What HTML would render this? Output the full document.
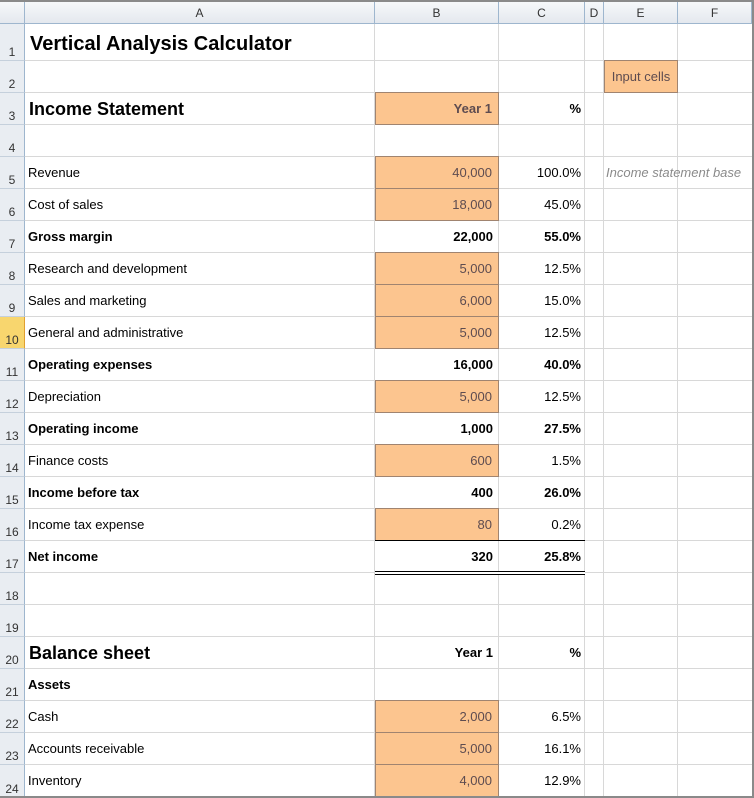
<!DOCTYPE html>
<html><head><meta charset="utf-8"><style>
*{margin:0;padding:0;box-sizing:border-box}
body{width:754px;height:798px;overflow:hidden;background:#fff;font-family:"Liberation Sans",sans-serif;font-size:13px;color:#000;position:relative}
.a{position:absolute}
.hdr{top:2px;height:22px;background:linear-gradient(#f6f8fa,#e4e8ee);border-bottom:1px solid #9eb6ce;text-align:center;line-height:22px;color:#333;font-size:12px}
.vl{position:absolute;top:24px;bottom:0;width:1px;background:#d8d8d8}
.hl{position:absolute;left:25px;right:2px;height:1px;background:#d8d8d8}
.rn{position:absolute;left:0;width:25px;background:#e9edf2;border-right:1px solid #9eb6ce;border-bottom:1px solid #c5d0dc;color:#333;font-size:12px;text-align:center}
.rn span{position:absolute;bottom:1px;left:0;right:0}
.t{position:absolute;left:28px;line-height:32px;white-space:nowrap}
.b{position:absolute;left:375px;width:124px;line-height:32px;text-align:right;padding-right:6px}
.c{position:absolute;left:499px;width:86px;line-height:32px;text-align:right;padding-right:4px}
.o{background:#fcc58f;border:1px solid #a08470;color:#5e4c50;line-height:32px;height:33px}
.bd{font-weight:bold}
</style></head><body>
<div class="a" style="left:0;top:0;width:754px;height:2px;background:#8a8a8a"></div>
<div class="a" style="left:752px;top:0;width:2px;height:798px;background:#8a8a8a"></div>
<div class="a" style="left:0;top:0;width:2px;height:798px;background:#8a8a8a"></div>
<div class="a hdr" style="left:0;width:25px;border-right:1px solid #9eb6ce"></div>
<div class="a hdr" style="left:25px;width:350px;border-right:1px solid #9eb6ce">A</div>
<div class="a hdr" style="left:375px;width:124px;border-right:1px solid #9eb6ce">B</div>
<div class="a hdr" style="left:499px;width:86px;border-right:1px solid #9eb6ce">C</div>
<div class="a hdr" style="left:585px;width:19px;border-right:1px solid #9eb6ce">D</div>
<div class="a hdr" style="left:604px;width:74px;border-right:1px solid #9eb6ce">E</div>
<div class="a hdr" style="left:678px;width:74px;border-right:1px solid #9eb6ce">F</div>
<div class="vl" style="left:374px"></div><div class="vl" style="left:498px"></div><div class="vl" style="left:584px"></div><div class="vl" style="left:603px"></div><div class="vl" style="left:677px"></div>
<div class="hl" style="top:60px"></div><div class="hl" style="top:92px"></div><div class="hl" style="top:124px"></div><div class="hl" style="top:156px"></div><div class="hl" style="top:188px"></div><div class="hl" style="top:220px"></div><div class="hl" style="top:252px"></div><div class="hl" style="top:284px"></div><div class="hl" style="top:316px"></div><div class="hl" style="top:348px"></div><div class="hl" style="top:380px"></div><div class="hl" style="top:412px"></div><div class="hl" style="top:444px"></div><div class="hl" style="top:476px"></div><div class="hl" style="top:508px"></div><div class="hl" style="top:540px"></div><div class="hl" style="top:572px"></div><div class="hl" style="top:604px"></div><div class="hl" style="top:636px"></div><div class="hl" style="top:668px"></div><div class="hl" style="top:700px"></div><div class="hl" style="top:732px"></div><div class="hl" style="top:764px"></div>
<div class="rn" style="top:24px;height:37px"><span>1</span></div>
<div class="rn" style="top:61px;height:32px"><span>2</span></div>
<div class="rn" style="top:93px;height:32px"><span>3</span></div>
<div class="rn" style="top:125px;height:32px"><span>4</span></div>
<div class="rn" style="top:157px;height:32px"><span>5</span></div>
<div class="rn" style="top:189px;height:32px"><span>6</span></div>
<div class="rn" style="top:221px;height:32px"><span>7</span></div>
<div class="rn" style="top:253px;height:32px"><span>8</span></div>
<div class="rn" style="top:285px;height:32px"><span>9</span></div>
<div class="rn" style="top:317px;height:32px;background:#f8d66e;border-right-color:#e0a030"><span>10</span></div>
<div class="rn" style="top:349px;height:32px"><span>11</span></div>
<div class="rn" style="top:381px;height:32px"><span>12</span></div>
<div class="rn" style="top:413px;height:32px"><span>13</span></div>
<div class="rn" style="top:445px;height:32px"><span>14</span></div>
<div class="rn" style="top:477px;height:32px"><span>15</span></div>
<div class="rn" style="top:509px;height:32px"><span>16</span></div>
<div class="rn" style="top:541px;height:32px"><span>17</span></div>
<div class="rn" style="top:573px;height:32px"><span>18</span></div>
<div class="rn" style="top:605px;height:32px"><span>19</span></div>
<div class="rn" style="top:637px;height:32px"><span>20</span></div>
<div class="rn" style="top:669px;height:32px"><span>21</span></div>
<div class="rn" style="top:701px;height:32px"><span>22</span></div>
<div class="rn" style="top:733px;height:32px"><span>23</span></div>
<div class="rn" style="top:765px;height:33px"><span>24</span></div>

<div class="t bd" style="top:28px;font-size:20px;left:30px">Vertical Analysis Calculator</div>
<div class="a o" style="left:604px;top:60px;width:74px;text-align:center;line-height:32px">Input cells</div>
<div class="t bd" style="top:93px;font-size:18px;left:29px">Income Statement</div>
<div class="b o bd" style="top:92px">Year 1</div>
<div class="c bd" style="top:93px">%</div>

<div class="t" style="top:157px">Revenue</div><div class="b o" style="top:156px">40,000</div><div class="c" style="top:157px">100.0%</div>
<div class="t" style="top:157px;left:606px;color:#8a8a8a;font-style:italic">Income statement base</div>
<div class="t" style="top:189px">Cost of sales</div><div class="b o" style="top:188px">18,000</div><div class="c" style="top:189px">45.0%</div>
<div class="t bd" style="top:221px">Gross margin</div><div class="b bd" style="top:221px">22,000</div><div class="c bd" style="top:221px">55.0%</div>
<div class="t" style="top:253px">Research and development</div><div class="b o" style="top:252px">5,000</div><div class="c" style="top:253px">12.5%</div>
<div class="t" style="top:285px">Sales and marketing</div><div class="b o" style="top:284px">6,000</div><div class="c" style="top:285px">15.0%</div>
<div class="t" style="top:317px">General and administrative</div><div class="b o" style="top:316px">5,000</div><div class="c" style="top:317px">12.5%</div>
<div class="t bd" style="top:349px">Operating expenses</div><div class="b bd" style="top:349px">16,000</div><div class="c bd" style="top:349px">40.0%</div>
<div class="t" style="top:381px">Depreciation</div><div class="b o" style="top:380px">5,000</div><div class="c" style="top:381px">12.5%</div>
<div class="t bd" style="top:413px">Operating income</div><div class="b bd" style="top:413px">1,000</div><div class="c bd" style="top:413px">27.5%</div>
<div class="t" style="top:445px">Finance costs</div><div class="b o" style="top:444px">600</div><div class="c" style="top:445px">1.5%</div>
<div class="t bd" style="top:477px">Income before tax</div><div class="b bd" style="top:477px">400</div><div class="c bd" style="top:477px">26.0%</div>
<div class="t" style="top:509px">Income tax expense</div><div class="b o" style="top:508px">80</div><div class="c" style="top:509px">0.2%</div>
<div class="a" style="left:375px;top:540px;width:210px;height:1px;background:#000"></div>
<div class="t bd" style="top:541px">Net income</div><div class="b bd" style="top:541px">320</div><div class="c bd" style="top:541px">25.8%</div>
<div class="a" style="left:375px;top:571px;width:210px;height:4px;border-top:1px solid #000;border-bottom:1px solid #000;background:#fff"></div>

<div class="t bd" style="top:637px;font-size:18px;left:29px">Balance sheet</div>
<div class="b bd" style="top:637px">Year 1</div><div class="c bd" style="top:637px">%</div>
<div class="t bd" style="top:669px">Assets</div>
<div class="t" style="top:701px">Cash</div><div class="b o" style="top:700px">2,000</div><div class="c" style="top:701px">6.5%</div>
<div class="t" style="top:733px">Accounts receivable</div><div class="b o" style="top:732px">5,000</div><div class="c" style="top:733px">16.1%</div>
<div class="t" style="top:765px">Inventory</div><div class="b o" style="top:764px">4,000</div><div class="c" style="top:765px">12.9%</div>
<div class="a" style="left:0;top:796px;width:754px;height:2px;background:#8a8a8a"></div>
</body></html>
